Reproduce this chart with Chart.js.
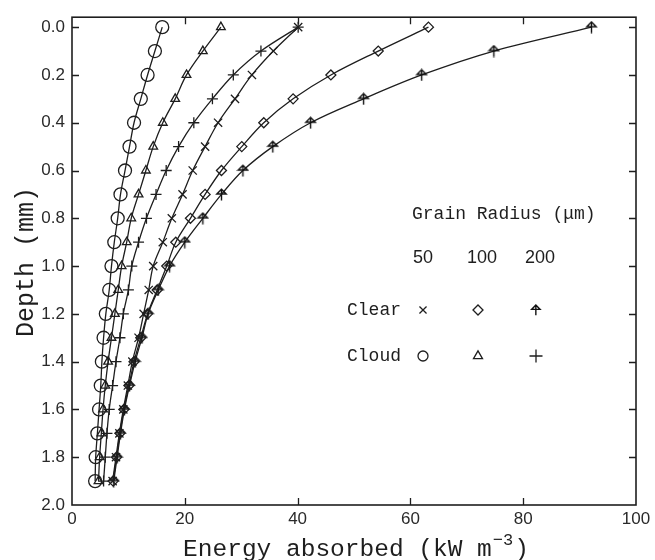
<!DOCTYPE html>
<html>
<head>
<meta charset="utf-8">
<script src="https://cdn.jsdelivr.net/npm/chart.js@4/dist/chart.umd.min.js"></script>
<style>
  html, body { margin: 0; padding: 0; background: #ffffff; }
  #wrap { width: 655px; height: 560px; position: relative; }
</style>
</head>
<body>
<div id="wrap"><canvas id="c" width="655" height="560"></canvas></div>
<script>
// ---- data ----
const depths   = [0.0, 0.1, 0.2, 0.3, 0.4, 0.5, 0.6, 0.7, 0.8, 0.9, 1.0, 1.1, 1.2, 1.3, 1.4, 1.5, 1.6, 1.7, 1.8, 1.9];
const clear50  = [40.1, 35.7, 31.9, 28.9, 25.9, 23.6, 21.4, 19.6, 17.7, 16.1, 14.4, 13.6, 12.7, 11.8, 10.7, 9.9, 9.1, 8.4, 7.8, 7.2];
const clear100 = [63.2, 54.3, 45.9, 39.2, 34.0, 30.1, 26.5, 23.6, 21.0, 18.4, 16.8, 15.1, 13.4, 12.2, 11.0, 10.1, 9.2, 8.5, 7.9, 7.3];
const clear200 = [92.1, 74.8, 62.0, 51.7, 42.3, 35.6, 30.3, 26.5, 23.2, 20.0, 17.3, 15.3, 13.5, 12.4, 11.2, 10.2, 9.3, 8.6, 8.0, 7.4];
const cloud50  = [16.0, 14.7, 13.4, 12.2, 11.0, 10.2, 9.4, 8.6, 8.1, 7.5, 7.0, 6.6, 6.0, 5.6, 5.3, 5.1, 4.8, 4.5, 4.2, 4.1];
const cloud100 = [26.4, 23.2, 20.3, 18.3, 16.1, 14.4, 13.1, 11.8, 10.5, 9.7, 8.8, 8.2, 7.6, 7.0, 6.4, 5.9, 5.5, 5.2, 4.9, 4.7];
const cloud200 = [40.1, 33.5, 28.6, 24.9, 21.6, 18.9, 16.7, 14.9, 13.2, 11.8, 10.6, 10.0, 9.1, 8.5, 7.8, 7.2, 6.6, 6.2, 5.9, 5.6];

const xTicks = [0, 20, 40, 60, 80, 100];
const yTicks = [0.0, 0.2, 0.4, 0.6, 0.8, 1.0, 1.2, 1.4, 1.6, 1.8, 2.0];
const radiusLabels = ['50', '100', '200'];
const skyLabels = ['Clear', 'Cloud'];
const legendTitle = 'Grain Radius (\u03BCm)';
const xTitle = 'Energy absorbed (kW m';
const xTitleSup = '\u22123';
const yTitle = 'Depth (mm)';

// ---- styles ----
const INK = '#1e1e1e';
const SERIF_MONO = '"Liberation Mono", "DejaVu Sans Mono", monospace';
const SANS = '"Liberation Sans", Arial, sans-serif';

// custom "arrow-umbrella" marker for clear / 200 um
function makeArrowMarker(scale) {
  const s = scale || 1;
  const c = document.createElement('canvas');
  c.width = Math.round(13 * s); c.height = Math.round(13 * s);
  const g = c.getContext('2d');
  g.strokeStyle = '#111';
  g.lineWidth = 1.4;
  g.lineJoin = 'miter';
  g.beginPath();
  g.moveTo(6.5 * s, 1.2 * s); g.lineTo(1.8 * s, 6 * s); g.lineTo(11.2 * s, 6 * s); g.closePath();
  g.moveTo(6.5 * s, 1.2 * s); g.lineTo(6.5 * s, 12.5 * s);
  g.stroke();
  return c;
}
const arrowMarker = makeArrowMarker(1);
const arrowMarkerSmall = makeArrowMarker(0.9);

function series(label, vals, style, radius) {
  return {
    label: label,
    data: vals.map((v, i) => ({ x: v, y: depths[i] })),
    borderColor: INK,
    backgroundColor: 'rgba(0,0,0,0)',
    borderWidth: 1.3,
    pointStyle: style,
    pointRadius: radius,
    pointBorderColor: INK,
    pointBackgroundColor: 'rgba(0,0,0,0)',
    pointBorderWidth: 1.3,
    tension: 0.35,
    fill: false
  };
}

const datasets = [
  series('Clear 50',  clear50,  'crossRot', 5.8),
  series('Clear 100', clear100, 'rectRot', 5),
  series('Clear 200', clear200, arrowMarker, 6),
  series('Cloud 50',  cloud50,  'circle', 6.5),
  series('Cloud 100', cloud100, 'triangle', 5),
  series('Cloud 200', cloud200, 'cross', 5.5)
];

const legendStyles = [
  ['crossRot', 'rectRot', arrowMarkerSmall],
  ['circle', 'triangle', 'cross']
];
const legendRadii = [[5, 5, 6], [5, 5.2, 6.5]];

const framePlugin = {
  id: 'frame',
  afterDraw(chart) {
    const ctx = chart.ctx;
    const a = chart.chartArea;
    const xs = chart.scales.x, ys = chart.scales.y;
    ctx.save();
    ctx.strokeStyle = INK;
    ctx.lineWidth = 1.6;
    ctx.strokeRect(a.left, a.top, a.right - a.left, a.bottom - a.top);
    ctx.lineWidth = 1.3;
    ctx.beginPath();
    const TL = 7;
    xTicks.forEach(v => {
      if (v === xs.min || v === xs.max) return;
      const px = Math.round(xs.getPixelForValue(v)) + 0.5;
      ctx.moveTo(px, a.bottom); ctx.lineTo(px, a.bottom - TL);
      ctx.moveTo(px, a.top); ctx.lineTo(px, a.top + TL);
    });
    yTicks.forEach(v => {
      if (v === 2.0) return;
      const py = Math.round(ys.getPixelForValue(v)) + 0.5;
      ctx.moveTo(a.left, py); ctx.lineTo(a.left + TL, py);
      ctx.moveTo(a.right, py); ctx.lineTo(a.right - TL, py);
    });
    ctx.stroke();

    // axis titles
    ctx.fillStyle = INK;
    ctx.textBaseline = 'alphabetic';
    const MAINF = '24.5px ' + SERIF_MONO;
    const SUPF = '17px ' + SERIF_MONO;
    ctx.font = MAINF;
    const wMain = ctx.measureText(xTitle).width;
    const wPar = ctx.measureText(')').width;
    ctx.font = SUPF;
    const wSup = ctx.measureText(xTitleSup).width;
    const total = wMain + wSup + wPar + 2;
    const x0 = 356 - total / 2;
    const base = 556;
    ctx.textAlign = 'left';
    ctx.font = MAINF;
    ctx.fillText(xTitle, x0, base);
    ctx.font = SUPF;
    ctx.fillText(xTitleSup, x0 + wMain + 1, base - 11);
    ctx.font = MAINF;
    ctx.fillText(')', x0 + wMain + wSup + 2, base);

    ctx.save();
    ctx.translate(26, 262);
    ctx.rotate(-Math.PI / 2);
    ctx.textAlign = 'center';
    ctx.textBaseline = 'middle';
    ctx.font = '25px ' + SERIF_MONO;
    ctx.fillText(yTitle, 0, 0);
    ctx.restore();

    // in-plot legend
    ctx.font = '18px ' + SERIF_MONO;
    ctx.textBaseline = 'middle';
    ctx.textAlign = 'left';
    ctx.fillText(legendTitle, 412, 214);
    const colX = [423, 478, 536];
    ctx.textAlign = 'center';
    ctx.font = '18px ' + SANS;
    const numX = [423, 482, 540];
    radiusLabels.forEach((t, i) => ctx.fillText(t, numX[i], 258));
    ctx.font = '18px ' + SERIF_MONO;
    ctx.textAlign = 'right';
    const rowY = [310, 356];
    skyLabels.forEach((t, r) => ctx.fillText(t, 401, rowY[r]));
    const H = Chart.helpers;
    ctx.strokeStyle = INK;
    ctx.lineWidth = 1.3;
    for (let r = 0; r < 2; r++) {
      for (let c = 0; c < 3; c++) {
        ctx.fillStyle = 'rgba(0,0,0,0)';
        H.drawPoint(ctx, {
          pointStyle: legendStyles[r][c],
          radius: legendRadii[r][c],
          borderWidth: 1.3,
          rotation: 0
        }, colX[c], rowY[r]);
      }
    }
    ctx.restore();
  }
};

new Chart(document.getElementById('c'), {
  type: 'line',
  data: { datasets: datasets },
  options: {
    responsive: false,
    animation: false,
    layout: { padding: { top: 15, right: 19, left: 0, bottom: 0 } },
    plugins: { legend: { display: false }, tooltip: { enabled: false } },
    scales: {
      x: {
        type: 'linear',
        min: 0, max: 100,
        afterBuildTicks: s => { s.ticks = xTicks.map(v => ({ value: v })); },
        afterFit: s => { s.height = 55; },
        grid: { display: false, drawTicks: false },
        border: { display: false },
        ticks: {
          padding: 4,
          color: '#2a2a2a',
          font: { family: SANS, size: 17 },
          maxRotation: 0,
          callback: v => String(v)
        }
      },
      y: {
        type: 'linear',
        reverse: true,
        min: -0.0417, max: 2.0,
        afterBuildTicks: s => { s.ticks = yTicks.map(v => ({ value: v })); },
        afterFit: s => { s.width = 72; },
        grid: { display: false, drawTicks: false },
        border: { display: false },
        ticks: {
          padding: 7,
          color: '#2a2a2a',
          font: { family: SANS, size: 17 },
          callback: v => Number(v).toFixed(1)
        }
      }
    }
  },
  plugins: [framePlugin]
});
</script>
</body>
</html>
